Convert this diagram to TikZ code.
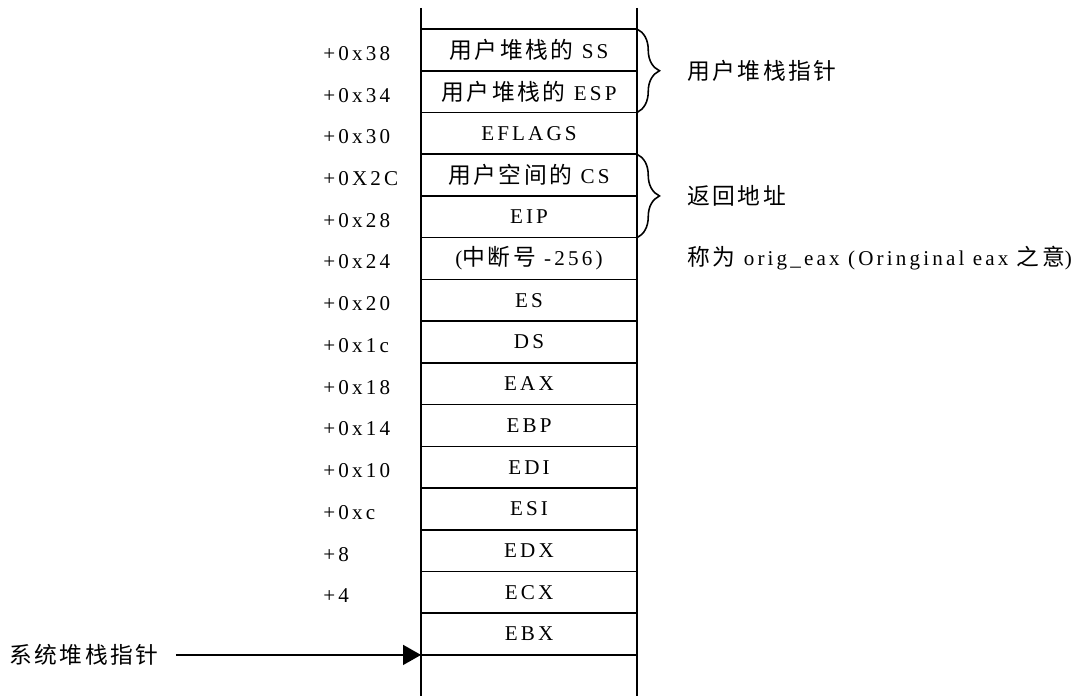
\documentclass[tikz,border=0pt]{standalone}
\usepackage{fontspec}
\setmainfont{Liberation Serif}[LetterSpace=15]
\newfontfamily\cjk{Noto Sans CJK SC}[Scale=1.08, LetterSpace=11]
\usetikzlibrary{arrows.meta, positioning, decorations.pathreplacing}

\begin{document}
\begin{tikzpicture}[x=0.02cm, y=-0.02cm, node distance=0pt,
                reg/.style={draw, line width=0.9pt, outer sep=0pt, inner sep=0pt,
                    minimum width=4.32cm, minimum height=0.8347cm, font=\fontsize{12}{14}\selectfont},
                off/.style={anchor=west, inner sep=0pt, yshift=-2pt, font=\fontsize{12}{14}\selectfont},
                note/.style={anchor=west, inner sep=0pt, font=\fontsize{12}{14}\selectfont},
                brc/.style={decorate, decoration={brace, amplitude=0.45cm}, line width=0.9pt},
                arr/.style={-{Triangle[length=3.6mm, width=4mm]}, line width=0.9pt}]
                \useasboundingbox (0,0) rectangle (1092,696);
                \node[reg] (ss) at (529,49.9) {{\cjk 用户堆栈的} SS};
                \node[reg, below=of ss] (esp) {{\cjk 用户堆栈的} ESP};
                \node[reg, below=of esp] (eflags) {EFLAGS};
                \node[reg, below=of eflags] (cs) {{\cjk 用户空间的} CS};
                \node[reg, below=of cs] (eip) {EIP};
                \node[reg, below=of eip] (orig) {({\cjk 中断号} -256)};
                \node[reg, below=of orig] (es) {ES};
                \node[reg, below=of es] (ds) {DS};
                \node[reg, below=of ds] (eax) {EAX};
                \node[reg, below=of eax] (ebp) {EBP};
                \node[reg, below=of ebp] (edi) {EDI};
                \node[reg, below=of edi] (esi) {ESI};
                \node[reg, below=of esi] (edx) {EDX};
                \node[reg, below=of edx] (ecx) {ECX};
                \node[reg, below=of ecx] (ebx) {EBX};
                % stack walls
                \coordinate (top) at (529,8);
                \coordinate (bot) at (529,696);
                \draw[line width=1pt] (ss.west |- top) -- (ss.west |- bot);
                \draw[line width=1pt] (ss.east |- top) -- (ss.east |- bot);
                % offsets
                \foreach \n/\t in {ss/+0x38, esp/+0x34, eflags/+0x30, cs/+0X2C, eip/+0x28,
                    orig/+0x24, es/+0x20, ds/+0x1c, eax/+0x18, ebp/+0x14, edi/+0x10,
                    esi/+0xc, edx/+8, ecx/+4}
                    \node[off] (o-\n) at (323,0 |- \n) {\t};
                % notes
                \draw[brc] (ss.north east) -- (esp.south east);
                \draw[brc] (cs.north east) -- (eip.south east);
                \node[note] (usp) at (687,0 |- ss.south) {\cjk 用户堆栈指针};
                \node[note] (ret) at (687,0 |- cs.south) {\cjk 返回地址};
                \node[note] (oeax) at (687,0 |- orig) {{\cjk 称为} orig\_eax (Oringinal eax {\cjk 之意})};
                \node[note] (ssp) at (9,0 |- ebx.south) {\cjk 系统堆栈指针};
                \draw[arr, shorten <=0.34cm] (ssp) -- (ebx.south west);
            \end{tikzpicture}
\end{document}
